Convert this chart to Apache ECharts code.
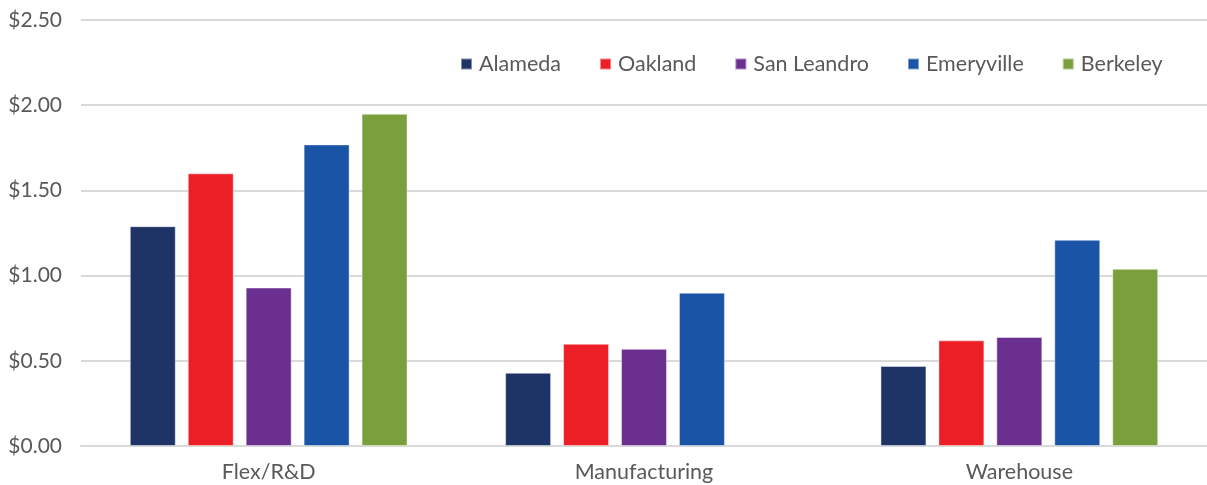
<!DOCTYPE html>
<html>
<head>
<meta charset="utf-8">
<title>Rents by property type</title>
<script src="https://cdn.jsdelivr.net/npm/echarts@6/dist/echarts.min.js"></script>
<style>
  html, body { margin: 0; padding: 0; background: #fff; }
  #main { width: 1207px; height: 485px; }
</style>
</head>
<body>
<div id="main"></div>
<script>
// categories and values
var categories = ['Flex/R&D', 'Manufacturing', 'Warehouse'];
var cities = ['Alameda', 'Oakland', 'San Leandro', 'Emeryville', 'Berkeley'];
var alameda    = [1.29, 0.43, 0.47];
var oakland    = [1.60, 0.60, 0.62];
var sanLeandro = [0.93, 0.57, 0.64];
var emeryville = [1.77, 0.90, 1.21];
var berkeley   = [1.95, null, 1.04];
var yTicks = [0, 0.5, 1, 1.5, 2, 2.5];

var colors = ['#1F3466', '#EC1F27', '#6A2F8F', '#1954A6', '#7AA03E'];
var values = [alameda, oakland, sanLeandro, emeryville, berkeley];
var font = 'Lato, "Open Sans", sans-serif';

var series = cities.map(function (name, i) {
  return {
    name: name,
    type: 'bar',
    data: values[i],
    barGap: '26%',
    barCategoryGap: '26%',
    itemStyle: { color: colors[i], borderColor: 'rgba(255,255,255,0.45)', borderWidth: 1 }
  };
});

var chart = echarts.init(document.getElementById('main'));
chart.setOption({
  animation: false,
  color: colors,
  // plot area runs a little past the right edge, as in the cropped original
  grid: { left: 81, right: -7, top: 20, bottom: 39 },
  legend: {
    data: cities,
    left: 455,
    top: 48,
    icon: 'rect',
    itemWidth: 11,
    itemHeight: 11,
    itemGap: 38,
    textStyle: { fontFamily: font, fontSize: 21.5, color: '#595959', padding: [0, 0, 0, 2] }
  },
  xAxis: {
    type: 'category',
    data: categories,
    axisLine: { lineStyle: { color: '#d9d9d9', width: 2 } },
    axisTick: { show: false },
    axisLabel: { fontFamily: font, fontSize: 21.5, color: '#595959', margin: 15 }
  },
  yAxis: {
    type: 'value',
    min: yTicks[0],
    max: yTicks[yTicks.length - 1],
    interval: 0.5,
    axisLine: { show: false },
    axisTick: { show: false },
    splitLine: { lineStyle: { color: '#d9d9d9', width: 2 } },
    axisLabel: {
      fontFamily: font, fontSize: 21, color: '#595959', margin: 19,
      formatter: function (v) { return '$' + v.toFixed(2); }
    }
  },
  series: series
});
</script>
</body>
</html>
